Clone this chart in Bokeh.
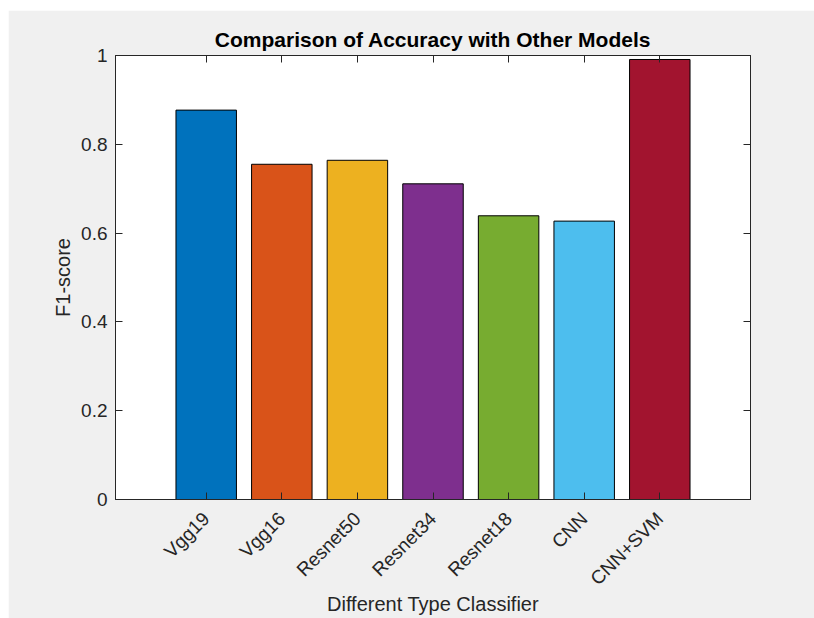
from math import pi
from bokeh.plotting import figure
from bokeh.models import LinearAxis, FixedTicker, Range1d, ColumnDataSource
from bokeh.embed import file_html
from bokeh.resources import INLINE

# ---- data ----
models = ["Vgg19", "Vgg16", "Resnet50", "Resnet34", "Resnet18", "CNN", "CNN+SVM"]
f1_scores = [0.877, 0.755, 0.764, 0.711, 0.639, 0.627, 0.991]
bar_colors = ["#0072BD", "#D95319", "#EDB120", "#7E2F8E", "#77AC30", "#4DBEEE", "#A2142F"]
y_ticks = [0, 0.2, 0.4, 0.6, 0.8, 1]
y_tick_labels = ["0", "0.2", "0.4", "0.6", "0.8", "1"]
positions = list(range(1, len(models) + 1))

FONT = "Liberation Sans"
INK = "#262626"
GREY = "#f0f0f0"

src = ColumnDataSource(dict(x=positions, top=f1_scores, color=bar_colors))

p = figure(width=806, height=608, output_backend="svg", toolbar_location=None,
           x_range=Range1d(-0.2, 8.2), y_range=Range1d(0, 1),
           min_border_left=107, min_border_right=64, min_border_top=45, min_border_bottom=119,
           background_fill_color="white", border_fill_color=GREY)
p.margin = (10, 0, 0, 8)
p.outline_line_color = INK
p.outline_line_width = 1
p.grid.visible = False

p.vbar(x="x", top="top", width=0.8, bottom=0, fill_color="color",
       line_color="black", line_width=1, source=src)

def style_axis(ax, font_size="19px"):
    ax.axis_line_color = INK
    ax.major_tick_line_color = INK
    ax.minor_tick_line_color = None
    ax.major_tick_in = 7
    ax.major_tick_out = 0
    ax.major_label_text_color = INK
    ax.major_label_text_font = FONT
    ax.major_label_text_font_size = font_size

def style_label(ax, text, standoff):
    ax.axis_label = text
    ax.axis_label_text_font = FONT
    ax.axis_label_text_font_size = "20px"
    ax.axis_label_text_font_style = "normal"
    ax.axis_label_text_color = INK
    ax.axis_label_standoff = standoff

# bottom axis
xa = p.xaxis[0]
xa.ticker = FixedTicker(ticks=positions)
xa.major_label_overrides = {pos: name for pos, name in zip(positions, models)}
xa.major_label_orientation = pi / 4
style_axis(xa)
xa.major_label_standoff = 16
style_label(xa, "Different Type Classifier", -6)

# left axis
ya = p.yaxis[0]
ya.ticker = FixedTicker(ticks=y_ticks)
ya.major_label_overrides = {t: s for t, s in zip(y_ticks, y_tick_labels)}
style_axis(ya)
ya.major_label_standoff = 8
style_label(ya, "F1-score", 4)

# mirrored axes (tick marks only, no labels)
ra = LinearAxis(ticker=FixedTicker(ticks=y_ticks))
style_axis(ra, "0px")
ra.major_label_overrides = {t: "" for t in y_ticks}
ra.major_label_standoff = 0
p.add_layout(ra, "right")

ta = LinearAxis(ticker=FixedTicker(ticks=positions))
style_axis(ta, "0px")
ta.major_label_overrides = {t: "" for t in positions}
ta.major_label_standoff = 0
p.add_layout(ta, "above")

# title
p.title.text = "Comparison of Accuracy with Other Models"
p.title.align = "center"
p.title.text_font = FONT
p.title.text_font_size = "21px"
p.title.text_font_style = "bold"
p.title.text_color = "black"
p.title.standoff = 10

open("out.html", "w").write(file_html(p, INLINE))
